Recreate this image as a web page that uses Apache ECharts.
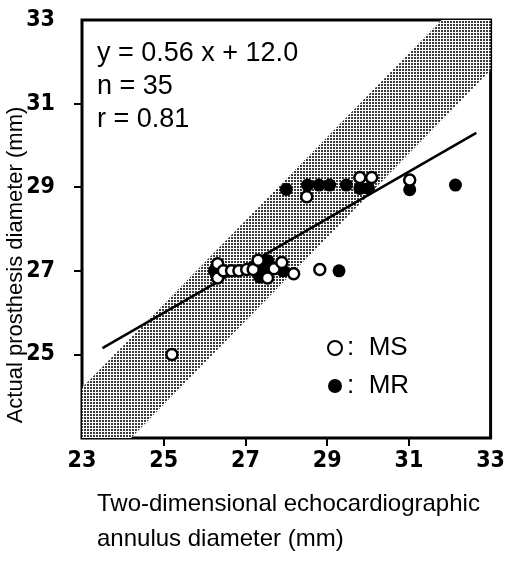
<!DOCTYPE html>
<html>
<head>
<meta charset="utf-8">
<script src="https://cdn.jsdelivr.net/npm/echarts@6/dist/echarts.min.js"></script>
<style>
html,body{margin:0;padding:0;background:#fff;}
#main{width:508px;height:566px;}
</style>
</head>
<body>
<div id="main"></div>
<script>
// ---- data ----
const msPoints = [
  [25.2, 25.0], [26.32, 27.17], [26.32, 26.83], [26.46, 27.0], [26.66, 27.0],
  [26.84, 27.0], [27.03, 27.03], [27.19, 27.03], [27.31, 27.25], [27.54, 26.83],
  [27.70, 27.05], [27.89, 27.2], [28.18, 26.93], [28.82, 27.03], [28.50, 28.77],
  [29.80, 29.23], [30.09, 29.23], [31.02, 29.17]
];
const mrPoints = [
  [26.24, 27.0], [27.43, 27.13], [27.35, 26.85], [27.55, 27.24], [27.48, 27.0],
  [27.6, 27.1], [27.92, 27.0], [29.29, 27.0], [28.0, 28.95], [28.52, 29.05],
  [28.80, 29.05], [29.06, 29.05], [29.47, 29.05], [29.80, 28.97], [30.01, 28.97],
  [31.02, 28.94], [32.14, 29.05]
];
const fitX = [23.5, 32.65];
const fitY = [25.15, 30.3];
const bandX = [21, 35];
const bandLower = [19.8, 33.8];
const bandWidth = [2.4, 2.4];
const xTickLabels = [23, 25, 27, 29, 31, 33];
const yTickLabels = [25, 27, 29, 31, 33];
const tickValues = [25, 27, 29, 31];
const statsLines = ['y = 0.56 x + 12.0', 'n = 35', 'r = 0.81'];
const seriesNames = ['MS', 'MR'];
const xTitle = ['Two-dimensional echocardiographic', 'annulus diameter (mm)'];
const yTitle = 'Actual prosthesis diameter (mm)';

// ---- dotted pattern for the band ----
const pc = document.createElement('canvas');
pc.width = 3; pc.height = 3;
const pctx = pc.getContext('2d');
pctx.fillStyle = '#fff'; pctx.fillRect(0, 0, 3, 3);
pctx.fillStyle = '#3a3a3a';
pctx.fillRect(0, 0, 2, 2);

const tickFont = '"Liberation Sans Narrow","DejaVu Sans Condensed","Liberation Sans",Arial,sans-serif';
const textFont = '"Liberation Sans",Arial,sans-serif';

const chart = echarts.init(document.getElementById('main'), null, {renderer: 'canvas'});
chart.setOption({
  animation: false,
  backgroundColor: '#fff',
  grid: {left: 82, right: 13, top: 20, bottom: 128, show: true, borderColor: '#000', borderWidth: 3, backgroundColor: 'transparent'},
  xAxis: {
    type: 'value', min: 23, max: 33,
    axisLine: {show: false},
    splitLine: {show: false},
    axisTick: {show: true, inside: false, length: 8, lineStyle: {color: '#000', width: 2}, customValues: tickValues},
    axisLabel: {customValues: xTickLabels, margin: 12, color: '#000', fontSize: 23, fontWeight: 'bold', fontFamily: tickFont}
  },
  yAxis: {
    type: 'value', min: 23, max: 33,
    axisLine: {show: false},
    splitLine: {show: false},
    axisTick: {show: true, inside: false, length: 8, lineStyle: {color: '#000', width: 2}, customValues: tickValues},
    axisLabel: {customValues: yTickLabels, margin: 27, color: '#000', fontSize: 23, fontWeight: 'bold', fontFamily: tickFont}
  },
  legend: {
    orient: 'vertical', left: 322, top: 330, itemGap: 12,
    itemWidth: 14, itemHeight: 14,
    data: [{name: 'MS', icon: 'circle'}, {name: 'MR', icon: 'circle'}],
    formatter: function (n) { return ':  ' + n; },
    textStyle: {color: '#000', fontSize: 26, fontFamily: textFont}
  },
  graphic: [
    {type: 'text', left: 97, top: 37, style: {text: statsLines.join('\n'), font: '27px ' + textFont, lineHeight: 33, fill: '#000'}},
    {type: 'text', left: 97, top: 487, style: {text: xTitle.join('\n'), font: '24px ' + textFont, lineHeight: 35, fill: '#000'}},
    {type: 'text', x: 16, y: 265, rotation: Math.PI / 2, style: {text: yTitle, font: '22px ' + textFont, fill: '#000', align: 'center', verticalAlign: 'middle'}}
  ],
  series: [
    {type: 'custom', silent: true, clip: true, z: 1,
     data: [0],
     renderItem: function (params, api) {
       const pts = [
         api.coord([bandX[0], bandLower[0]]),
         api.coord([bandX[1], bandLower[1]]),
         api.coord([bandX[1], bandLower[1] + bandWidth[1]]),
         api.coord([bandX[0], bandLower[0] + bandWidth[0]])
       ];
       const cs = params.coordSys;
       return {
         type: 'polygon',
         shape: {points: pts},
         style: {fill: {image: pc, repeat: 'repeat'}, stroke: null},
         clipPath: {type: 'rect', shape: {x: cs.x, y: cs.y, width: cs.width, height: cs.height}}
       };
     }},
    {type: 'line', silent: true, symbol: 'none', lineStyle: {color: '#000', width: 2.5},
     data: fitX.map((x, i) => [x, fitY[i]]), z: 2},
    {name: seriesNames[1], type: 'scatter', symbol: 'circle', symbolSize: 13,
     itemStyle: {color: '#000', borderWidth: 0, opacity: 1},
     data: mrPoints, z: 3},
    {name: seriesNames[0], type: 'scatter', symbol: 'circle', symbolSize: 11,
     itemStyle: {color: '#fff', borderColor: '#000', borderWidth: 2.5, opacity: 1},
     data: msPoints, z: 4}
  ]
});
</script>
</body>
</html>
